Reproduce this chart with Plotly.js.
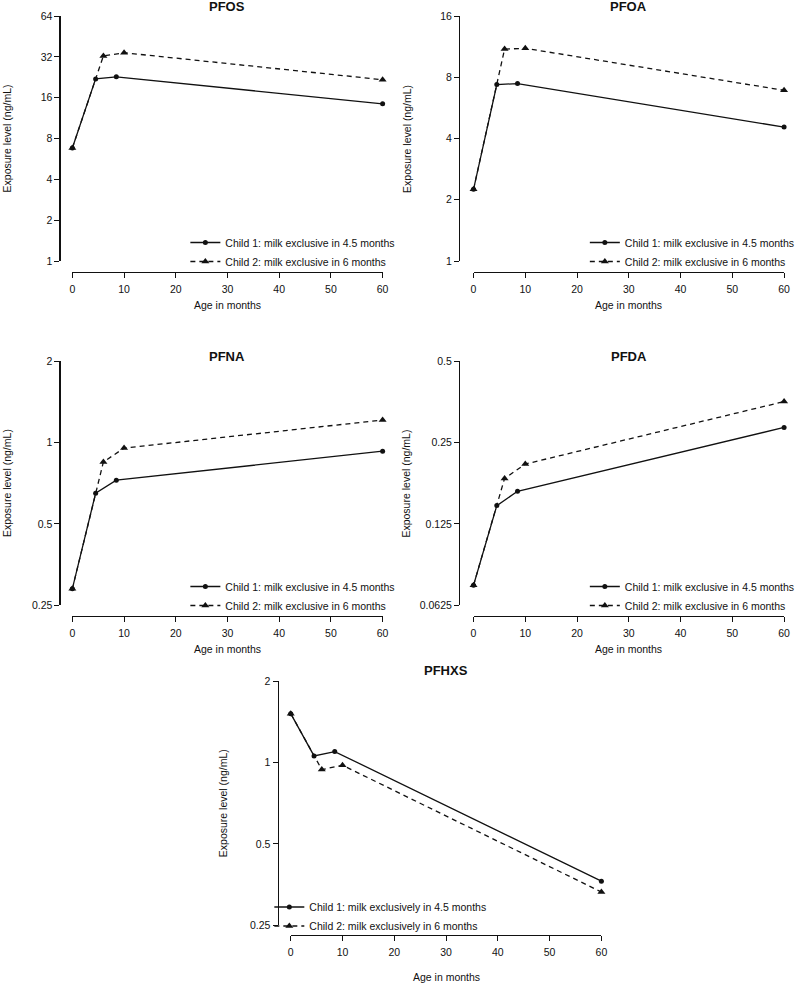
<!DOCTYPE html>
<html>
<head>
<meta charset="utf-8">
<script src="https://cdn.plot.ly/plotly-3.0.1.min.js"></script>
<style>html,body{margin:0;padding:0;background:#fff;}#chart{width:800px;height:984px;}</style>
</head>
<body>
<div id="chart"></div>
<script>
// ---- data ----
const agesChild1 = [0, 4.5, 8.5, 60];
const agesChild2 = [0, 6, 10, 60];
const xTicks = [0, 10, 20, 30, 40, 50, 60];

const panelNames = ["PFOS", "PFOA", "PFNA", "PFDA", "PFHXS"];

const pfosChild1 = [6.8, 22.0, 22.8, 14.4];
const pfosChild2 = [6.8, 32.5, 34.3, 21.7];
const pfoaChild1 = [2.25, 7.36, 7.45, 4.55];
const pfoaChild2 = [2.25, 11.0, 11.1, 6.9];
const pfnaChild1 = [0.288, 0.649, 0.725, 0.928];
const pfnaChild2 = [0.288, 0.847, 0.953, 1.21];
const pfdaChild1 = [0.0741, 0.146, 0.165, 0.284];
const pfdaChild2 = [0.0741, 0.184, 0.208, 0.354];
const pfhxsChild1 = [1.515, 1.057, 1.097, 0.364];
const pfhxsChild2 = [1.515, 0.941, 0.976, 0.332];

const pfosTicks = [1, 2, 4, 8, 16, 32, 64];
const pfoaTicks = [1, 2, 4, 8, 16];
const pfnaTicks = [0.25, 0.5, 1, 2];
const pfdaTicks = [0.0625, 0.125, 0.25, 0.5];
const pfhxsTicks = [0.25, 0.5, 1, 2];

const legendChild1 = "Child 1: milk exclusive in 4.5 months";
const legendChild2 = "Child 2: milk exclusive in 6 months";
const legendChild1b = "Child 1: milk exclusively in 4.5 months";
const legendChild2b = "Child 2: milk exclusively in 6 months";

// ---- layout geometry (pixels) ----
const W = 800, H = 984;
const FONT = "Liberation Sans, Arial, Helvetica, sans-serif";
const INK = "#111";
const px = v => v / W;
const py = v => 1 - v / H;

const panels = [
  {name: panelNames[0], c1: pfosChild1, c2: pfosChild2, ticks: pfosTicks, l1: legendChild1, l2: legendChild2,
   g: {x0: 73, x1: 386, yTop: 16, yBot: 261, yAx: 60, xAx: 272, tY: 7, xtY: 305, ytX: 7, legX: 227, legY: 252}},
  {name: panelNames[1], c1: pfoaChild1, c2: pfoaChild2, ticks: pfoaTicks, l1: legendChild1, l2: legendChild2,
   g: {x0: 477.7, x1: 791, yTop: 16, yBot: 261, yAx: 463, xAx: 272, tY: 7, xtY: 305, ytX: 410, legX: 630, legY: 252}},
  {name: panelNames[2], c1: pfnaChild1, c2: pfnaChild2, ticks: pfnaTicks, l1: legendChild1, l2: legendChild2,
   g: {x0: 73, x1: 386, yTop: 361, yBot: 605.3, yAx: 60, xAx: 616, tY: 356, xtY: 649, ytX: 7, legX: 227, legY: 596}},
  {name: panelNames[3], c1: pfdaChild1, c2: pfdaChild2, ticks: pfdaTicks, l1: legendChild1, l2: legendChild2,
   g: {x0: 477.7, x1: 791, yTop: 361, yBot: 605.3, yAx: 463, xAx: 616, tY: 356, xtY: 649, ytX: 410, legX: 630, legY: 596}},
  {name: panelNames[4], c1: pfhxsChild1, c2: pfhxsChild2, ticks: pfhxsTicks, l1: legendChild1b, l2: legendChild2b,
   g: {x0: 293.3, x1: 606.7, yTop: 681, yBot: 925.3, yAx: 280, xAx: 934.7, tY: 670.7, xtY: 977, ytX: 225, legX: 311.7, legY: 916.5}}
];

const traces = [];
const layout = {
  width: W, height: H,
  margin: {l: 0, r: 0, t: 0, b: 0},
  paper_bgcolor: "#fff", plot_bgcolor: "rgba(0,0,0,0)",
  font: {family: FONT, color: INK, size: 10.5},
  annotations: [],
  showlegend: true
};

panels.forEach((p, i) => {
  const k = i + 1;
  const xa = k === 1 ? "x" : "x" + k;
  const ya = k === 1 ? "y" : "y" + k;
  const leg = k === 1 ? "legend" : "legend" + k;
  const g = p.g;

  traces.push({
    x: agesChild1, y: p.c1, xaxis: xa, yaxis: ya, legend: leg,
    type: "scatter", mode: "lines+markers", name: p.l1, cliponaxis: false,
    line: {color: INK, width: 1.3},
    marker: {symbol: "circle", size: 5, color: INK}
  });
  traces.push({
    x: agesChild2, y: p.c2, xaxis: xa, yaxis: ya, legend: leg,
    type: "scatter", mode: "lines+markers", name: p.l2, cliponaxis: false,
    line: {color: INK, width: 1.3, dash: "5px,4px"},
    marker: {symbol: "triangle-up", size: 7, color: INK}
  });

  const axKeyX = k === 1 ? "xaxis" : "xaxis" + k;
  const axKeyY = k === 1 ? "yaxis" : "yaxis" + k;
  layout[axKeyX] = {
    domain: [px(g.x0), px(g.x1)],
    range: [0, 60],
    anchor: "free", position: py(g.xAx),
    tickvals: xTicks, ticktext: xTicks.map(String),
    ticks: "outside", ticklen: 5, tickwidth: 1, tickcolor: INK,
    showline: true, linecolor: INK, linewidth: 1.2,
    showgrid: false, zeroline: false, fixedrange: true,
    tickfont: {size: 10.5, color: INK, family: FONT},
    ticklabelstandoff: 2
  };
  layout[axKeyY] = {
    domain: [py(g.yBot), py(g.yTop)],
    type: "log",
    range: [Math.log10(p.ticks[0]), Math.log10(p.ticks[p.ticks.length - 1])],
    anchor: "free", position: px(g.yAx),
    tickvals: p.ticks, ticktext: p.ticks.map(String),
    ticks: "outside", ticklen: 5, tickwidth: 1, tickcolor: INK,
    showline: true, linecolor: INK, linewidth: 1.2,
    showgrid: false, zeroline: false, fixedrange: true,
    tickfont: {size: 10.5, color: INK, family: FONT}
  };
  layout[leg] = {
    x: px(g.legX - 40), y: py(g.legY - 24), xanchor: "left", yanchor: "top",
    bgcolor: "rgba(0,0,0,0)", borderwidth: 0,
    font: {size: 10.5, color: INK, family: FONT},
    itemwidth: 30, tracegroupgap: 0
  };

  layout.annotations.push({
    text: "<b>" + p.name + "</b>", xref: "paper", yref: "paper",
    x: px((g.x0 + g.x1) / 2), y: py(g.tY), xanchor: "center", yanchor: "middle",
    showarrow: false, font: {size: 13, color: INK, family: FONT}
  });
  layout.annotations.push({
    text: "Age in months", xref: "paper", yref: "paper",
    x: px((g.x0 + g.x1) / 2), y: py(g.xtY), xanchor: "center", yanchor: "middle",
    showarrow: false, font: {size: 10.5, color: INK, family: FONT}
  });
  layout.annotations.push({
    text: "Exposure level (ng/mL)", xref: "paper", yref: "paper",
    x: px(g.ytX), y: py((g.yTop + g.yBot) / 2), xanchor: "center", yanchor: "middle",
    textangle: -90, showarrow: false, font: {size: 10.5, color: INK, family: FONT}
  });
});

Plotly.newPlot("chart", traces, layout, {displayModeBar: false, staticPlot: true});
</script>
</body>
</html>
